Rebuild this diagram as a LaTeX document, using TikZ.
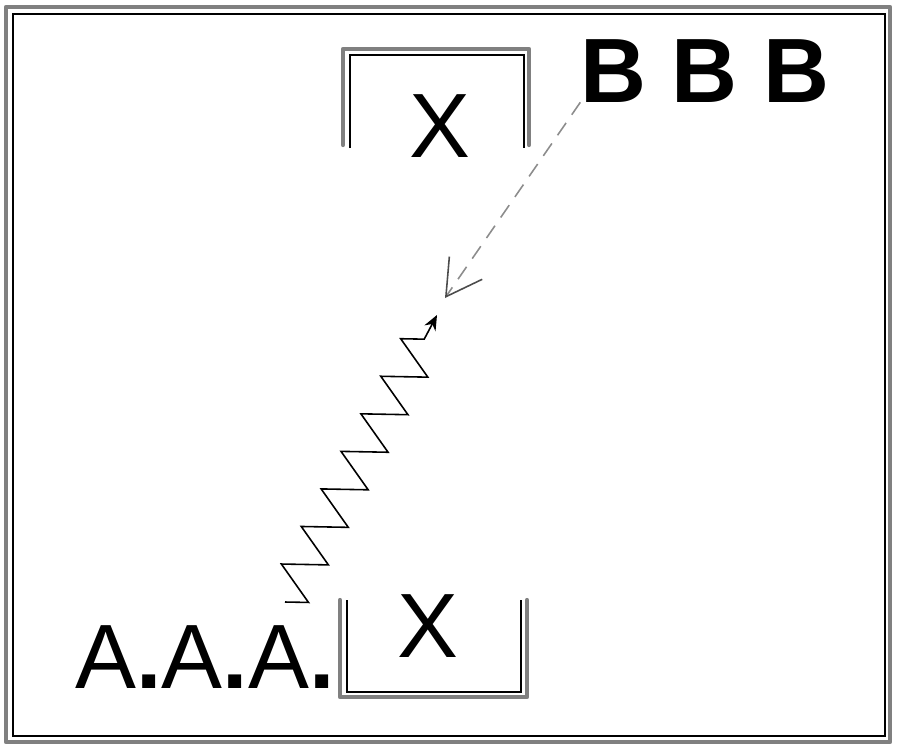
\documentclass[tikz,border=0pt]{standalone}
\usepackage{fontspec}
\setmainfont{Liberation Sans}
\usetikzlibrary{arrows.meta,decorations.pathmorphing}
\tikzstyle{word}=[inner sep=0pt, anchor=base, font=\fontsize{52}{60}\selectfont]
\tikzstyle{wall}=[draw=black!50, line width=2.4pt, line join=round, line cap=round]
\tikzstyle{lining}=[draw=black, line width=0.8pt]
\newcommand{\word}{\node[word]}

\begin{document}
\begin{tikzpicture}[x=0.02cm, y=-0.02cm
  ,zig/.style={draw, line width=0.9pt, decorate,
     decoration={zigzag, mirror, segment length=0.85cm, amplitude=0.42cm, post length=0.3cm},
     -{Stealth[length=0.3cm, width=0.25cm]}}
  ,hint/.style={draw=black!45, line width=0.9pt, dash pattern=on 0.3cm off 0.2cm,
     -{Straight Barb[length=0.7cm, width=0.8cm, black!70]}}
]
\useasboundingbox (0,0) rectangle (900,752);
% frame
\draw[wall] (6,7) rectangle (890,742);
\draw[lining] (13,14) rectangle (885,736);
% upper box, open below
\draw[wall] (343,145) -- (343,49) -- (529,49) -- (529,145);
\draw[lining] (350,148) -- (350,55) -- (524,55) -- (524,148);
% lower box, open above
\draw[wall] (340,600) -- (340,697) -- (527,697) -- (527,600);
\draw[lining] (347,600) -- (347,692) -- (521,692) -- (521,600);
\word (upX) at (440,157) {X};
\word (lowX) at (428,657) {X};
\word[font=\fontsize{52}{60}\selectfont\bfseries] (bees) at (705,102) {B B B};
\word (ays) at (205,688) {A{\bfseries.}A{\bfseries.}A{\bfseries.}};
\coordinate (zz) at (285,602);
\coordinate (hitA) at (437,315);
\coordinate (hitB) at (445,298);
\path
(zz) edge[zig] (hitA)
(bees.south west) edge[hint] (hitB)
;
\end{tikzpicture}
\end{document}
